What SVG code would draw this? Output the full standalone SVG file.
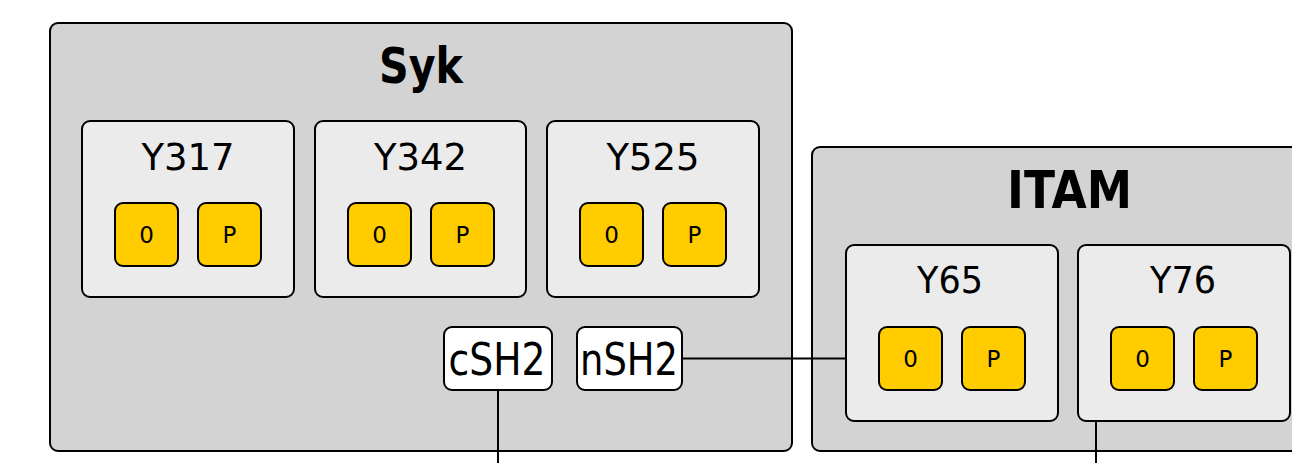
<svg xmlns="http://www.w3.org/2000/svg" width="1292" height="463" viewBox="0 0 1292 463">
<style>
text{font-family:"DejaVu Sans","Liberation Sans",sans-serif;fill:#000;text-anchor:middle}
.outer{fill:#d3d3d3;stroke:#000;stroke-width:2}
.site{fill:#ebebeb;stroke:#000;stroke-width:2}
.st{fill:#ffcc00;stroke:#000;stroke-width:2}
.dom{fill:#fff;stroke:#000;stroke-width:2}
.title{font-weight:bold;font-size:49px}
.lab{font-size:38px}
.sl{font-size:23px}
.dl{font-size:44px}
.edge{stroke:#000;stroke-width:2;fill:none}
</style>
<g id="Syk">
<rect class="outer" x="50" y="23" width="742" height="428" rx="8"/>
<text class="title" x="421" y="83" textLength="84" lengthAdjust="spacingAndGlyphs">Syk</text>
</g>
<g id="Syk_Y317">
<rect class="site" x="82" y="121" width="212" height="176" rx="8"/>
<text class="lab" x="188" y="170" textLength="93" lengthAdjust="spacingAndGlyphs">Y317</text>
<rect class="st" x="115" y="203" width="63" height="63" rx="8"/>
<text class="sl" x="146.5" y="243">0</text>
<rect class="st" x="198" y="203" width="63" height="63" rx="8"/>
<text class="sl" x="229.5" y="243">P</text>
</g>
<g id="Syk_Y342">
<rect class="site" x="315" y="121" width="211" height="176" rx="8"/>
<text class="lab" x="420.5" y="170" textLength="93" lengthAdjust="spacingAndGlyphs">Y342</text>
<rect class="st" x="348" y="203" width="63" height="63" rx="8"/>
<text class="sl" x="379.5" y="243">0</text>
<rect class="st" x="431" y="203" width="63" height="63" rx="8"/>
<text class="sl" x="462.5" y="243">P</text>
</g>
<g id="Syk_Y525">
<rect class="site" x="547" y="121" width="212" height="176" rx="8"/>
<text class="lab" x="653" y="170" textLength="93" lengthAdjust="spacingAndGlyphs">Y525</text>
<rect class="st" x="580" y="203" width="63" height="63" rx="8"/>
<text class="sl" x="611.5" y="243">0</text>
<rect class="st" x="663" y="203" width="63" height="63" rx="8"/>
<text class="sl" x="694.5" y="243">P</text>
</g>
<g id="Syk_cSH2">
<rect class="dom" x="444" y="327" width="108" height="63" rx="8"/>
<text class="dl" x="497" y="375" textLength="97" lengthAdjust="spacingAndGlyphs">cSH2</text>
</g>
<g id="Syk_nSH2">
<rect class="dom" x="577" y="327" width="105" height="63" rx="8"/>
<text class="dl" x="629" y="375" textLength="98" lengthAdjust="spacingAndGlyphs">nSH2</text>
</g>
<g id="ITAM">
<rect class="outer" x="812" y="147" width="511" height="304" rx="8"/>
<text class="title" x="1069.5" y="208" textLength="125" lengthAdjust="spacingAndGlyphs" style="font-size:51px">ITAM</text>
</g>
<g id="ITAM_Y65">
<rect class="site" x="846" y="245" width="212" height="176" rx="8"/>
<text class="lab" x="950" y="293" textLength="66" lengthAdjust="spacingAndGlyphs">Y65</text>
<rect class="st" x="879" y="327" width="63" height="63" rx="8"/>
<text class="sl" x="910.5" y="367">0</text>
<rect class="st" x="962" y="327" width="63" height="63" rx="8"/>
<text class="sl" x="993.5" y="367">P</text>
</g>
<g id="ITAM_Y76">
<rect class="site" x="1078" y="245" width="212" height="176" rx="8"/>
<text class="lab" x="1183" y="293" textLength="66" lengthAdjust="spacingAndGlyphs">Y76</text>
<rect class="st" x="1111" y="327" width="63" height="63" rx="8"/>
<text class="sl" x="1142.5" y="367">0</text>
<rect class="st" x="1194" y="327" width="63" height="63" rx="8"/>
<text class="sl" x="1225.5" y="367">P</text>
</g>
<g id="connectors">
<line class="edge" x1="682" y1="358.5" x2="846" y2="358.5"/>
<line class="edge" x1="498" y1="390" x2="498" y2="463"/>
<line class="edge" x1="1096" y1="421" x2="1096" y2="463"/>
</g>
</svg>
